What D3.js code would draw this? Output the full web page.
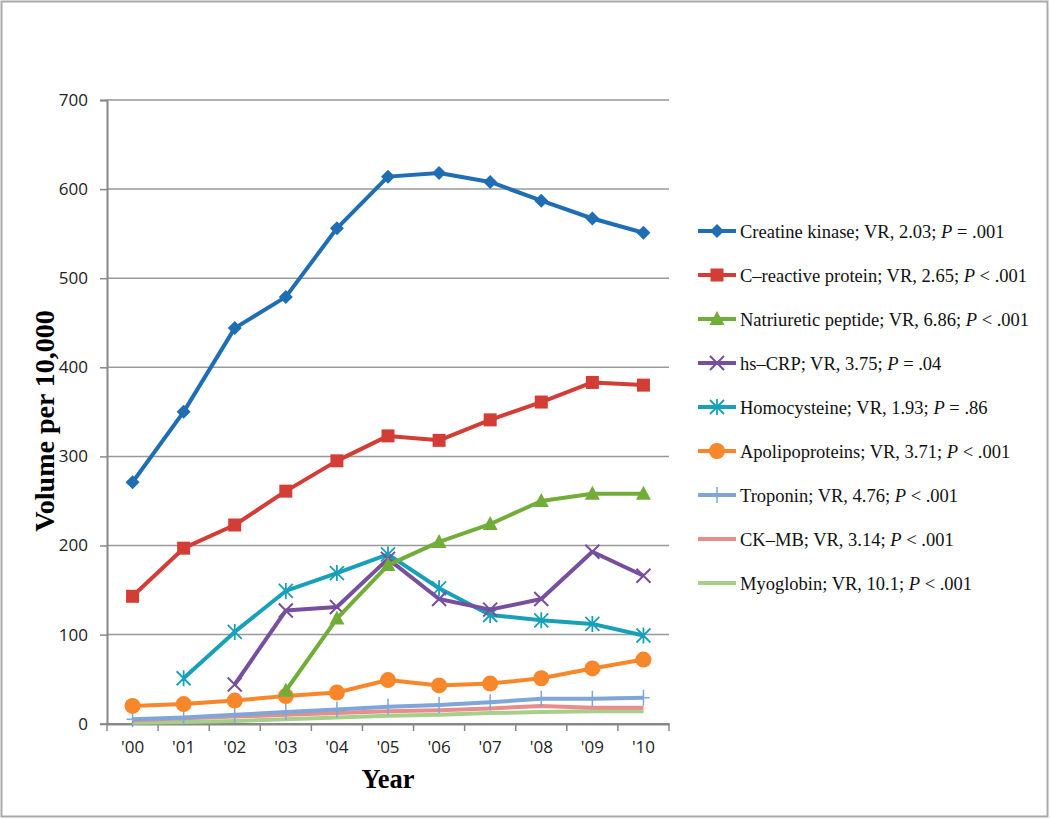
<!DOCTYPE html>
<html><head><meta charset="utf-8">
<script src="https://cdn.jsdelivr.net/npm/d3@7/dist/d3.min.js"></script>
<style>body{margin:0;background:#fff}svg{display:block}</style>
</head><body><svg id="c" width="1050" height="819"></svg>
<script>
const years = ["'00","'01","'02","'03","'04","'05","'06","'07","'08","'09","'10"];
const yTicks = [0,100,200,300,400,500,600,700];
const creatineKinase = [271,350,444,479,556,614,618,608,587,567,551];
const cReactive = [143,197,223,261,295,323,318,341,361,383,380];
const natriuretic = [null,null,null,37,118,178,204,224,250,258,258];
const hsCRP = [null,null,44,127,131,185,140,128,140,193,166];
const homocysteine = [null,51,103,149,169,190,152,122,116,112,99];
const apolipoproteins = [20,22,26,31,35,49,43,45,51,62,72];
const troponin = [5,7,10,13,16,19,21,24,28,28,29];
const ckmb = [4,6,8,10,12,14,15,17,20,18,18];
const myoglobin = [1,2,3,5,7,9,10,12,13,14,14];
const seriesNames = [
  ["Creatine kinase; VR, 2.03; ","P"," = .001"],
  ["C–reactive protein; VR, 2.65; ","P"," < .001"],
  ["Natriuretic peptide; VR, 6.86; ","P"," < .001"],
  ["hs–CRP; VR, 3.75; ","P"," = .04"],
  ["Homocysteine; VR, 1.93; ","P"," = .86"],
  ["Apolipoproteins; VR, 3.71; ","P"," < .001"],
  ["Troponin; VR, 4.76; ","P"," < .001"],
  ["CK–MB; VR, 3.14; ","P"," < .001"],
  ["Myoglobin; VR, 10.1; ","P"," < .001"]
];
const seriesValues = [creatineKinase,cReactive,natriuretic,hsCRP,homocysteine,apolipoproteins,troponin,ckmb,myoglobin];
const colors = ["#1f6db3","#d23d36","#72ad3a","#774f9f","#18a0b8","#f7872a","#7ea6d9","#e88c8c","#a6d08a"];
const markers = ["diamond","square","triangle","x","asterisk","circle","plus","none","none"];

const svg = d3.select("#c");
svg.append("rect").attr("x",1.5).attr("y",1.5).attr("width",1046).attr("height",815)
  .attr("fill","none").attr("stroke","#aaa").attr("stroke-width",2);

const x = d3.scaleBand().domain(years).range([107,669]);
const y = d3.scaleLinear().domain([0,700]).range([723.7,100]);
const cx = d => x(d)+x.bandwidth()/2;

// grid
svg.append("g").selectAll("line").data(yTicks.filter(t=>t>0)).join("line")
  .attr("x1",107).attr("x2",669).attr("y1",d=>y(d)).attr("y2",d=>y(d))
  .attr("stroke","#999").attr("stroke-width",1.5);

// y axis
const ya = svg.append("g").attr("transform","translate(107,0)")
  .call(d3.axisLeft(y).tickValues(yTicks).tickSize(7).tickPadding(12));
ya.select(".domain").attr("stroke","#888").attr("stroke-width",2);
ya.selectAll(".tick line").attr("stroke","#888").attr("stroke-width",1.5);
ya.selectAll("text").attr("font-family","'Open Sans', Calibri, sans-serif").attr("font-size",17).attr("fill","#222");

// x axis
const xa = svg.append("g").attr("transform","translate(0,723.7)")
  .call(d3.axisBottom(x).tickSize(0).tickPadding(17));
xa.select(".domain").attr("stroke","#888").attr("stroke-width",2.5);
xa.selectAll(".tick line").remove();
xa.selectAll("text").attr("font-family","'Open Sans', Calibri, sans-serif").attr("font-size",17).attr("fill","#222");
// band boundary ticks
const bounds = years.map(d=>x(d)).concat([x(years[years.length-1])+x.bandwidth()]);
svg.append("g").selectAll("line").data(bounds).join("line")
  .attr("x1",d=>d).attr("x2",d=>d).attr("y1",723.7).attr("y2",731)
  .attr("stroke","#888").attr("stroke-width",1.5);

// titles
svg.append("text").attr("x",388).attr("y",788).attr("text-anchor","middle")
  .attr("font-family","'Liberation Serif','Times New Roman',serif").attr("font-weight","bold")
  .attr("font-size",26.5).text("Year");
svg.append("text").attr("transform","translate(54,421) rotate(-90)").attr("text-anchor","middle")
  .attr("font-family","'Liberation Serif','Times New Roman',serif").attr("font-weight","bold")
  .attr("font-size",28).text("Volume per 10,000");

function drawMarker(g, type, color, px, py){
  if(type==="diamond"){
    g.append("path").attr("d",`M${px},${py-7}L${px+7},${py}L${px},${py+7}L${px-7},${py}Z`).attr("fill",color);
  } else if(type==="square"){
    g.append("rect").attr("x",px-6.5).attr("y",py-6.5).attr("width",13).attr("height",13).attr("fill",color);
  } else if(type==="triangle"){
    g.append("path").attr("d",`M${px},${py-8}L${px+7.5},${py+6}L${px-7.5},${py+6}Z`).attr("fill",color);
  } else if(type==="x"){
    g.append("path").attr("d",`M${px-7},${py-7}L${px+7},${py+7}M${px-7},${py+7}L${px+7},${py-7}`).attr("stroke",color).attr("stroke-width",2);
  } else if(type==="asterisk"){
    g.append("path").attr("d",`M${px-7},${py-7}L${px+7},${py+7}M${px-7},${py+7}L${px+7},${py-7}M${px},${py-8}L${px},${py+8}`).attr("stroke",color).attr("stroke-width",1.8);
  } else if(type==="circle"){
    g.append("circle").attr("cx",px).attr("cy",py).attr("r",8).attr("fill",color);
  } else if(type==="plus"){
    g.append("path").attr("d",`M${px},${py-8}L${px},${py+8}M${px-6},${py}L${px+6},${py}`).attr("stroke",color).attr("stroke-width",1.5);
  }
}

// draw series in reverse so first appears on top
const line = d3.line().defined(d=>d.v!=null).x(d=>cx(d.yr)).y(d=>y(d.v));
for(let i=seriesValues.length-1;i>=0;i--){
  const data = years.map((yr,j)=>({yr, v:seriesValues[i][j]}));
  const g = svg.append("g");
  g.append("path").datum(data).attr("d",line).attr("fill","none")
    .attr("stroke",colors[i]).attr("stroke-width",4).attr("stroke-linejoin","round");
  data.filter(d=>d.v!=null).forEach(d=>drawMarker(g,markers[i],colors[i],cx(d.yr),y(d.v)));
}

// legend
const lg = svg.append("g");
seriesNames.forEach((nm,i)=>{
  const yy = 231 + i*44;
  lg.append("line").attr("x1",698).attr("x2",736).attr("y1",yy).attr("y2",yy)
    .attr("stroke",colors[i]).attr("stroke-width",4);
  drawMarker(lg, markers[i], colors[i], 717, yy);
  const t = lg.append("text").attr("x",740).attr("y",yy+6.5)
    .attr("font-family","'Liberation Serif','Times New Roman',serif").attr("font-size",18.5).attr("fill","#111");
  t.append("tspan").text(nm[0]);
  t.append("tspan").attr("font-style","italic").text(nm[1]);
  t.append("tspan").text(nm[2]);
});
</script></body></html>
